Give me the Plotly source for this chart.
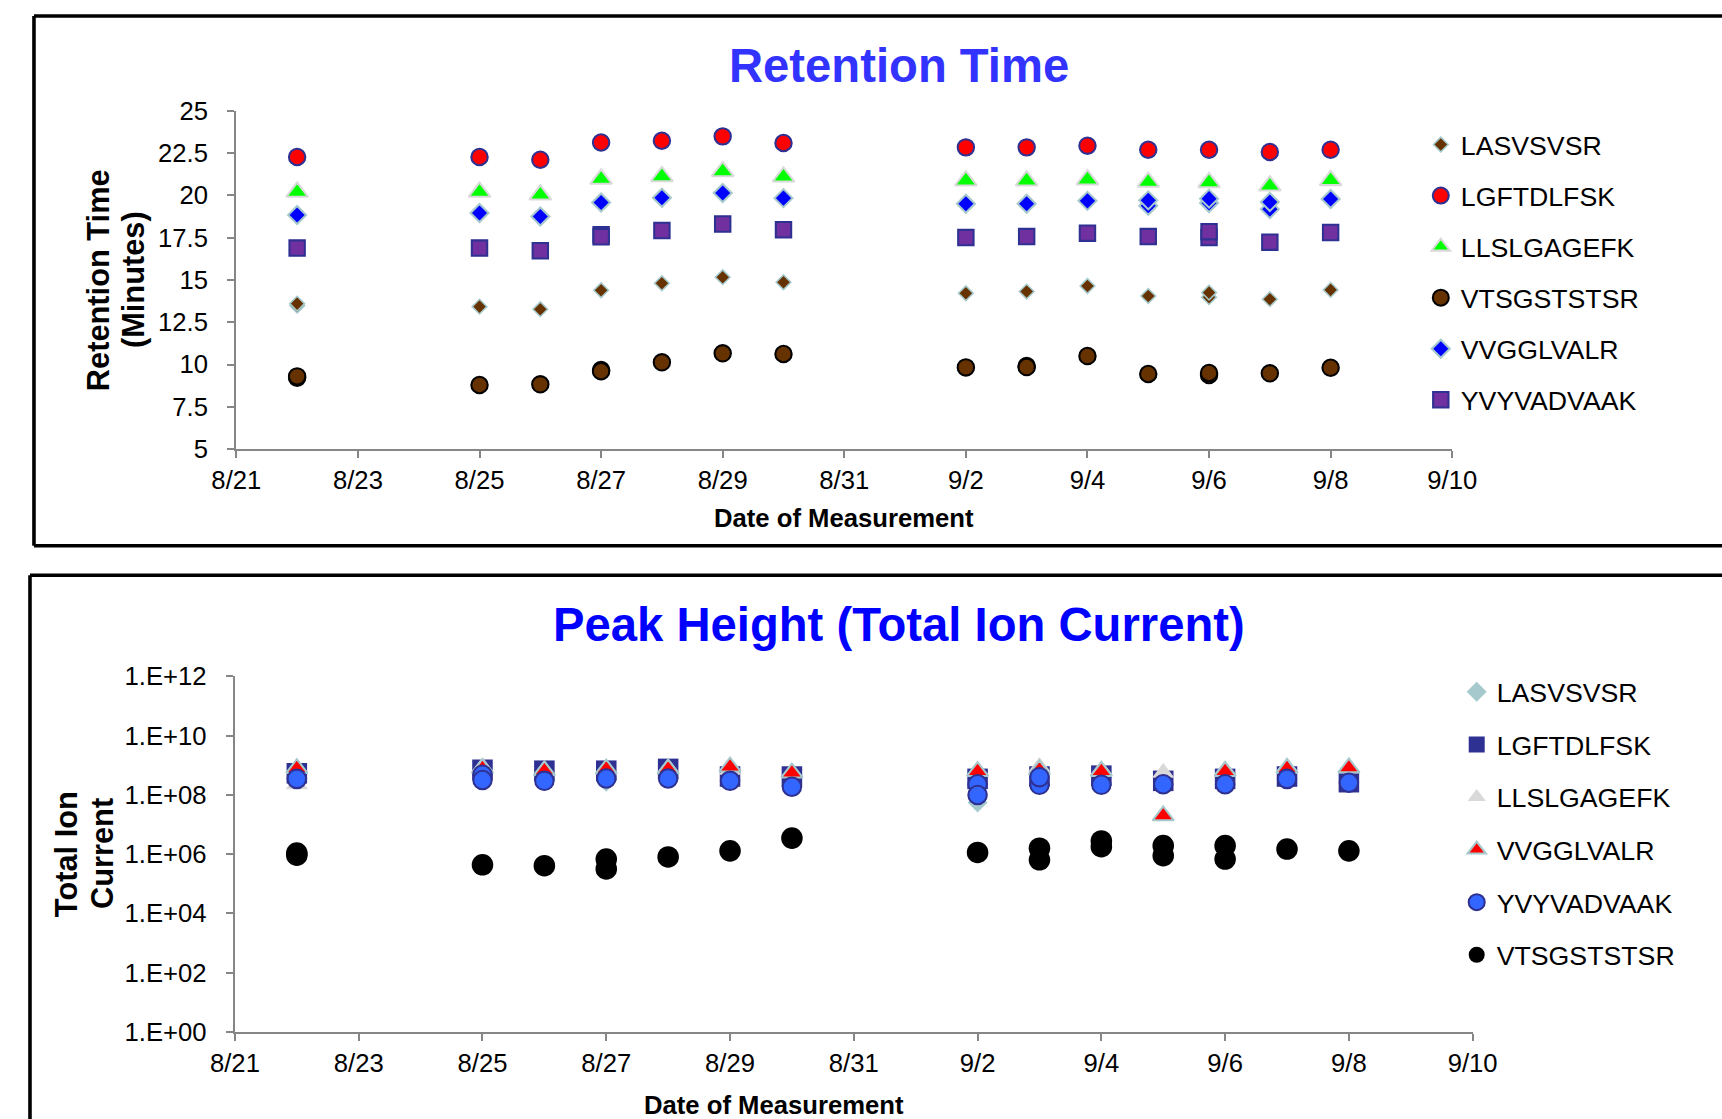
import plotly.graph_objects as go

# ---------------- data ----------------
dates = ["2011-08-22", "2011-08-25", "2011-08-26", "2011-08-27", "2011-08-28",
         "2011-08-29", "2011-08-30", "2011-09-02", "2011-09-03", "2011-09-04",
         "2011-09-05", "2011-09-06", "2011-09-07", "2011-09-08"]

# Retention time (minutes), main and replicate measurements
rt_LASVSVSR = [13.48, 13.42, 13.27, 14.39, 14.80, 15.16, 14.86, 14.21, 14.31, 14.64, 14.05, 13.98, 13.86, 14.41]
rt_LASVSVSR_rep = [13.60, None, None, None, None, None, None, None, None, None, None, 14.25, None, None]
rt_LGFTDLFSK = [22.26, 22.26, 22.10, 23.12, 23.22, 23.48, 23.09, 22.83, 22.83, 22.93, 22.69, 22.69, 22.56, 22.69]
rt_LGFTDLFSK_rep = [None] * 14
rt_LLSLGAGEFK = [20.19, 20.19, 20.03, 20.96, 21.11, 21.41, 21.09, 20.86, 20.86, 20.92, 20.78, 20.76, 20.56, 20.88]
rt_LLSLGAGEFK_rep = [None] * 14
rt_VTSGSTSTSR = [9.22, 8.79, 8.83, 9.67, 10.13, 10.66, 10.62, 9.83, 9.91, 10.50, 9.44, 9.38, 9.48, 9.81]
rt_VTSGSTSTSR_rep = [9.30, None, None, 9.60, None, None, None, None, 9.85, None, None, 9.50, None, None]
rt_VVGGLVALR = [18.83, 18.95, 18.75, 19.57, 19.85, 20.13, 19.83, 19.50, 19.50, 19.67, 19.38, 19.54, 19.18, 19.78]
rt_VVGGLVALR_rep = [None, None, None, None, None, None, None, None, None, None, 19.70, 19.80, 19.60, None]
rt_YVYVADVAAK = [16.88, 16.88, 16.72, 17.67, 17.92, 18.30, 17.96, 17.50, 17.56, 17.76, 17.56, 17.50, 17.23, 17.80]
rt_YVYVADVAAK_rep = [None, None, None, 17.55, None, None, None, None, None, None, None, 17.85, None, None]

# Peak height (total ion current)
tic_LASVSVSR = [4.0e8, 5.0e8, 4.5e8, 2.8e8, 5.0e8, 4.0e8, 3.2e8, 5.6e7, 4.0e8, 4.0e8, 3.2e8, 3.5e8, 5.0e8, 3.2e8]
tic_LASVSVSR_rep = [None] * 14
tic_LGFTDLFSK = [5.4e8, 7.1e8, 6.6e8, 6.6e8, 7.6e8, 4.2e8, 4.2e8, 3.5e8, 4.2e8, 4.5e8, 3.0e8, 3.5e8, 4.2e8, 2.7e8]
tic_LGFTDLFSK_rep = [None] * 14
tic_LLSLGAGEFK = [2.3e8, 8.9e8, 7.1e8, 7.1e8, 8.3e8, 7.1e8, 5.6e8, 6.3e8, 8.9e8, 7.1e8, 5.6e8, 7.1e8, 8.9e8, 7.9e8]
tic_LLSLGAGEFK_rep = [None] * 14
tic_VVGGLVALR = [7.9e8, 7.9e8, 6.6e8, 7.6e8, 7.6e8, 8.9e8, 5.6e8, 6.3e8, 7.1e8, 6.3e8, 2.0e7, 6.3e8, 7.9e8, 8.3e8]
tic_VVGGLVALR_rep = [None] * 14
tic_YVYVADVAAK = [3.5e8, 4.8e8, 3.0e8, 3.6e8, 3.6e8, 3.0e8, 1.9e8, 2.3e8, 2.2e8, 2.2e8, 2.3e8, 2.3e8, 3.5e8, 2.6e8]
tic_YVYVADVAAK_rep = [None, 3.2e8, None, None, None, None, None, 1.0e8, 4.0e8, None, None, None, None, None]
tic_VTSGSTSTSR = [9.3e5, 4.4e5, 4.1e5, 6.9e5, 8.1e5, 1.3e6, 3.5e6, 1.15e6, 1.6e6, 2.8e6, 1.95e6, 1.95e6, 1.5e6, 1.3e6]
tic_VTSGSTSTSR_rep = [1.1e6, None, None, 3.2e5, None, None, None, None, 6.5e5, 1.8e6, 8.9e5, 6.9e5, None, None]

rt_ticks = [5, 7.5, 10, 12.5, 15, 17.5, 20, 22.5, 25]
rt_ticktext = ["5", "7.5", "10", "12.5", "15", "17.5", "20", "22.5", "25"]
tic_ticks = [1e0, 1e2, 1e4, 1e6, 1e8, 1e10, 1e12]
tic_ticktext = ["1.E+00", "1.E+02", "1.E+04", "1.E+06", "1.E+08", "1.E+10", "1.E+12"]

# ---------------- layout geometry ----------------
S = 0.974                 # picture px per figure px
AX, AY = 20.5, 14.5       # picture offset of the figure's top-left corner
FW, FH = 1750, 1140
FONT = "Arial, Liberation Sans, Helvetica, sans-serif"
GRAY = "#868686"
LB = "#A5C9CC"
NAVY = "#2E3192"


def px(v):
    return (v - AX) / S / FW


def py(v):
    return 1 - (v - AY) / S / FH


def k(v):
    return v / S


def mk(symbol, size, color, lc=None, lw=0):
    return dict(symbol=symbol, size=k(size), color=color,
                line=dict(color=lc or color, width=k(lw)))


rt_series = [
    ("LASVSVSR", rt_LASVSVSR, rt_LASVSVSR_rep, mk("diamond", 11, "#663300", LB, 1.5)),
    ("LGFTDLFSK", rt_LGFTDLFSK, rt_LGFTDLFSK_rep, mk("circle", 16, "#FF0000", NAVY, 2)),
    ("LLSLGAGEFK", rt_LLSLGAGEFK, rt_LLSLGAGEFK_rep, mk("triangle-up", 18.5, "#00FF00", "#D9D9D9", 2)),
    ("VTSGSTSTSR", rt_VTSGSTSTSR, rt_VTSGSTSTSR_rep, mk("circle", 16, "#663300", "black", 2)),
    ("VVGGLVALR", rt_VVGGLVALR, rt_VVGGLVALR_rep, mk("diamond", 13.5, "#0000FF", LB, 2)),
    ("YVYVADVAAK", rt_YVYVADVAAK, rt_YVYVADVAAK_rep, mk("square", 15, "#7030A0", NAVY, 2)),
]

tic_series = [
    ("LASVSVSR", tic_LASVSVSR, tic_LASVSVSR_rep, mk("diamond", 15, LB)),
    ("LGFTDLFSK", tic_LGFTDLFSK, tic_LGFTDLFSK_rep, mk("square", 20, NAVY)),
    ("LLSLGAGEFK", tic_LLSLGAGEFK, tic_LLSLGAGEFK_rep, mk("triangle-up", 19, "#D9D9D9")),
    ("VVGGLVALR", tic_VVGGLVALR, tic_VVGGLVALR_rep, mk("triangle-up", 18, "#FF0000", LB, 2)),
    ("YVYVADVAAK", tic_YVYVADVAAK, tic_YVYVADVAAK_rep, mk("circle", 18, "#3366FF", NAVY, 2)),
    ("VTSGSTSTSR", tic_VTSGSTSTSR, tic_VTSGSTSTSR_rep, mk("circle", 21, "black")),
]

fig = go.Figure()

for name, vals, rep, m in rt_series:
    fig.add_trace(go.Scatter(
        x=dates + dates, y=vals + rep, mode="markers", name=name,
        marker=m, xaxis="x", yaxis="y", legend="legend",
        legendgroup="rt_" + name, cliponaxis=False))

for name, vals, rep, m in tic_series:
    fig.add_trace(go.Scatter(
        x=dates + dates, y=vals + rep, mode="markers", name=name,
        marker=m, xaxis="x2", yaxis="y2", legend="legend2",
        legendgroup="tic_" + name, cliponaxis=False))

axis_common = dict(showgrid=False, zeroline=False, showline=True, linecolor=GRAY, linewidth=k(2),
                   ticks="outside", ticklen=k(7), tickwidth=k(2), tickcolor=GRAY,
                   tickfont=dict(family=FONT, size=k(25), color="black"))

date_axis = dict(type="date", range=["2011-08-21", "2011-09-10"], tick0="2011-08-21",
                 dtick=2 * 86400000, tickformat="%-m/%-d", ticklabelstandoff=0, **axis_common)

fig.update_layout(
    width=FW, height=FH,
    margin=dict(l=0, r=0, t=0, b=0),
    paper_bgcolor="white", plot_bgcolor="white",
    font=dict(family=FONT, color="black"),
    xaxis=dict(domain=[px(232.4), px(1451.5)], anchor="y", **date_axis),
    yaxis=dict(domain=[py(449), py(111)], anchor="x", range=[5, 25],
               tickvals=rt_ticks, ticktext=rt_ticktext, ticklabelstandoff=14, **axis_common),
    xaxis2=dict(domain=[px(231), px(1472)], anchor="y2", **date_axis),
    yaxis2=dict(domain=[py(1031), py(676)], anchor="x2", type="log", range=[0, 12],
                tickvals=tic_ticks, ticktext=tic_ticktext, ticklabelstandoff=14, **axis_common),
    legend=dict(x=px(1420), y=py(121), xanchor="left", yanchor="top",
                font=dict(family=FONT, size=k(26), color="black"), tracegroupgap=k(13),
                bgcolor="rgba(0,0,0,0)", itemsizing="trace"),
    legend2=dict(x=px(1456), y=py(667.5), xanchor="left", yanchor="top",
                 font=dict(family=FONT, size=k(26), color="black"), tracegroupgap=k(14.5),
                 bgcolor="rgba(0,0,0,0)", itemsizing="trace"),
    showlegend=True,
)

# frames around the two chart areas (open to the right / bottom edge of the picture)
frame_lines = [
    (29.5, 16.5, None, 16.5),      # top box: top edge
    (29.5, 16.5, 29.5, 545.5),     # top box: left edge
    (29.5, 545.5, None, 545.5),    # top box: bottom edge
    (25.5, 575, None, 575),        # bottom box: top edge
    (25.5, 575, 25.5, None),       # bottom box: left edge
]
for x0, y0, x1, y1 in frame_lines:
    fig.add_shape(type="line", xref="paper", yref="paper",
                  x0=px(x0), x1=1 if x1 is None else px(x1),
                  y0=py(y0), y1=0 if y1 is None else py(y1),
                  line=dict(color="black", width=k(3.5)), layer="below")


def note(text, x, y, size, color="black", angle=0):
    fig.add_annotation(text=text, x=px(x), y=py(y), xref="paper", yref="paper",
                       showarrow=False, xanchor="center", yanchor="middle", textangle=angle,
                       font=dict(family=FONT, size=k(size), color=color, weight="bold"))


# chart titles
note("Retention Time", 897, 66, 46, "#3333FF")
note("Peak Height (Total Ion Current)", 897, 624, 46, "#0000FF")

# axis titles
note("Date of Measurement", 842, 518, 25)
note("Date of Measurement", 771, 1104, 25)
note("Retention Time", 95, 280, 30, angle=-90)
note("(Minutes)", 130, 280, 30, angle=-90)
note("Total Ion", 62, 853, 30, angle=-90)
note("Current", 98, 853, 30, angle=-90)

fig.write_html("out.html", config={"displayModeBar": False},
               post_script="document.body.style.margin='0';document.body.style.overflow='hidden';")
